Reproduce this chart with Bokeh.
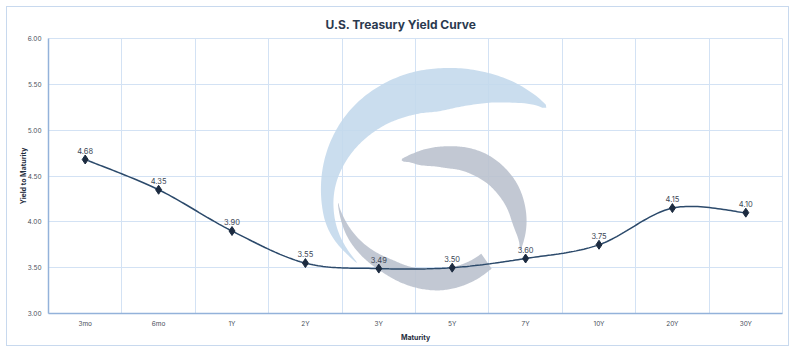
import numpy as np
from bokeh.plotting import figure
from bokeh.models import FixedTicker, ColumnDataSource, Range1d
from bokeh.embed import file_html
from bokeh.resources import INLINE
from bokeh.core.properties import value

# ---- data ----
maturities = ["3mo", "6mo", "1Y", "2Y", "3Y", "5Y", "7Y", "10Y", "20Y", "30Y"]
yields = [4.68, 4.35, 3.90, 3.55, 3.49, 3.50, 3.60, 3.75, 4.15, 4.10]
y_ticks = [3.0, 3.5, 4.0, 4.5, 5.0, 5.5, 6.0]
title_text = "U.S. Treasury Yield Curve"

# ---- layout (figure sits inside a 1px border box at page offset 6px) ----
OX, OY = 7, 7                # page offset of figure content
W, H = 783, 340              # content size
FL, FR, FT, FB = 48 - OX, 782 - OX, 38 - OY, 313 - OY
N = len(maturities)
YMIN, YMAX = y_ticks[0], y_ticks[-1]

FONT = "Inter"

p = figure(width=W, height=H, output_backend="svg", toolbar_location=None,
           x_range=Range1d(0, N), y_range=Range1d(YMIN, YMAX),
           min_border_left=FL, min_border_right=W - FR,
           min_border_top=FT, min_border_bottom=H - FB)
p.background_fill_color = "white"
p.border_fill_color = "white"
p.styles = {"border": "1px solid #c8d9ee", "margin-left": "6px", "margin-top": "6px"}

# title
p.title.text = title_text
p.title.align = "left"
p.title.offset = 277
p.title.text_font = FONT
p.title.text_font_size = "12px"
p.title.text_font_style = "bold"
p.title.text_color = "#2b3a4f"
p.title.standoff = 13

# axes
xc = [i + 0.5 for i in range(N)]
p.xaxis.ticker = FixedTicker(ticks=xc)
p.xaxis.major_label_overrides = {x: m for x, m in zip(xc, maturities)}
p.yaxis.ticker = FixedTicker(ticks=y_ticks)
p.yaxis.major_label_overrides = {t: f"{t:.2f}" for t in y_ticks}
for ax in (p.xaxis[0], p.yaxis[0]):
    ax.axis_line_color = "#93b2da"
    ax.axis_line_width = 1.5
    ax.major_tick_line_color = None
    ax.minor_tick_line_color = None
    ax.major_tick_out = 0
    ax.major_tick_in = 0
    ax.minor_tick_out = 0
    ax.minor_tick_in = 0
    ax.major_label_text_font = FONT
    ax.major_label_text_font_size = "6.5px"
    ax.major_label_text_color = "#4a4f5a"
    ax.axis_label_text_font = FONT
    ax.axis_label_text_font_size = "7px"
    ax.axis_label_text_font_style = "bold"
    ax.axis_label_text_color = "#1f2d3d"
p.xaxis.axis_label = "Maturity"
p.yaxis.axis_label = "Yield to Maturity"
p.xaxis.major_label_standoff = 6
p.yaxis.major_label_standoff = 7
p.xaxis.axis_label_standoff = 2
p.yaxis.axis_label_standoff = -3

p.xgrid.ticker = FixedTicker(ticks=list(range(N + 1)))
p.ygrid.ticker = FixedTicker(ticks=y_ticks)
p.xgrid.grid_line_color = "#d3e2f4"
p.ygrid.grid_line_color = "#d3e2f4"
p.outline_line_color = "#d3e2f4"

# ---- watermark (decorative logo) built in page-pixel space ----
def px2d(px, py):
    px = np.asarray(px) - OX
    py = np.asarray(py) - OY
    return ((px - FL) / (FR - FL) * N,
            YMAX - (py - FT) / (FB - FT) * (YMAX - YMIN))

def _smooth(a, k=15):
    pad = k // 2
    ap = np.concatenate([np.full(pad, a[0]), a, np.full(pad, a[-1])])
    return np.convolve(ap, np.ones(k) / k, mode="valid")

def swoosh(cx, cy, th_k, r_k, t_k, n=160):
    th = np.linspace(th_k[0], th_k[-1], n)
    r = _smooth(np.interp(th, th_k, r_k))
    t = _smooth(np.interp(th, th_k, t_k))
    t[0] = t_k[0]; t[-1] = t_k[-1]
    t = np.maximum(t, 0)
    rad = np.radians(th)
    ro, ri = r + t / 2, r - t / 2
    xs = np.concatenate([cx + ro * np.cos(rad), (cx + ri * np.cos(rad))[::-1]])
    ys = np.concatenate([cy - ro * np.sin(rad), (cy - ri * np.sin(rad))[::-1]])
    return px2d(xs, ys)

bx, by = swoosh(440, 190,
                [38, 45, 50, 70, 90, 115, 140, 180, 200, 221],
                [137, 128, 123, 108, 100, 101, 105, 113, 115, 110],
                [0, 12, 20, 36, 44, 40, 32, 13, 9, 0])
gx1, gy1 = swoosh(445, 225,
                  [-18, 0, 30, 60, 90, 110, 118, 124],
                  [79, 74, 72, 70, 68, 71, 74, 80],
                  [0, 14, 22, 25, 22, 16, 10, 0])
gx2, gy2 = swoosh(440, 195,
                  [184, 205, 233, 270, 290, 305],
                  [103, 98, 88, 84, 82, 80],
                  [0, 8, 16, 22, 20, 18])
p.patches(xs=[list(bx)], ys=[list(by)], fill_color="#c3d8ec", fill_alpha=0.88, line_color=None)
p.patches(xs=[list(gx1), list(gx2)], ys=[list(gy1), list(gy2)],
          fill_color="#b9c0cd", fill_alpha=0.88, line_color=None)

# ---- smoothed line (Catmull-Rom / Bezier through the data points) ----
P = np.column_stack([xc, yields])
Pe = np.vstack([P[0], P, P[-1]])
cx_list, cy_list = [], []
tt = np.linspace(0, 1, 30)
for i in range(N - 1):
    p0, p1, p2, p3 = Pe[i], Pe[i + 1], Pe[i + 2], Pe[i + 3]
    c1 = p1 + (p2 - p0) / 6
    c2 = p2 - (p3 - p1) / 6
    b = ((1 - tt) ** 3)[:, None] * p1 + (3 * (1 - tt) ** 2 * tt)[:, None] * c1 \
        + (3 * (1 - tt) * tt ** 2)[:, None] * c2 + (tt ** 3)[:, None] * p2
    cx_list.extend(b[:, 0]); cy_list.extend(b[:, 1])
p.line(cx_list, cy_list, line_color="#2c4a6b", line_width=1.5)

src = ColumnDataSource(dict(x=xc, y=yields, lab=[f"{v:.2f}" for v in yields]))
p.scatter("x", "y", source=src, marker="diamond", size=9, fill_color="#1c2b40", line_color="#1c2b40")
p.text("x", "y", text="lab", source=src, text_align="center", text_baseline="bottom",
       y_offset=-6, text_font=value(FONT), text_font_size="7.5px", text_color="#3d4756")

open("out.html", "w").write(file_html(p, INLINE))
